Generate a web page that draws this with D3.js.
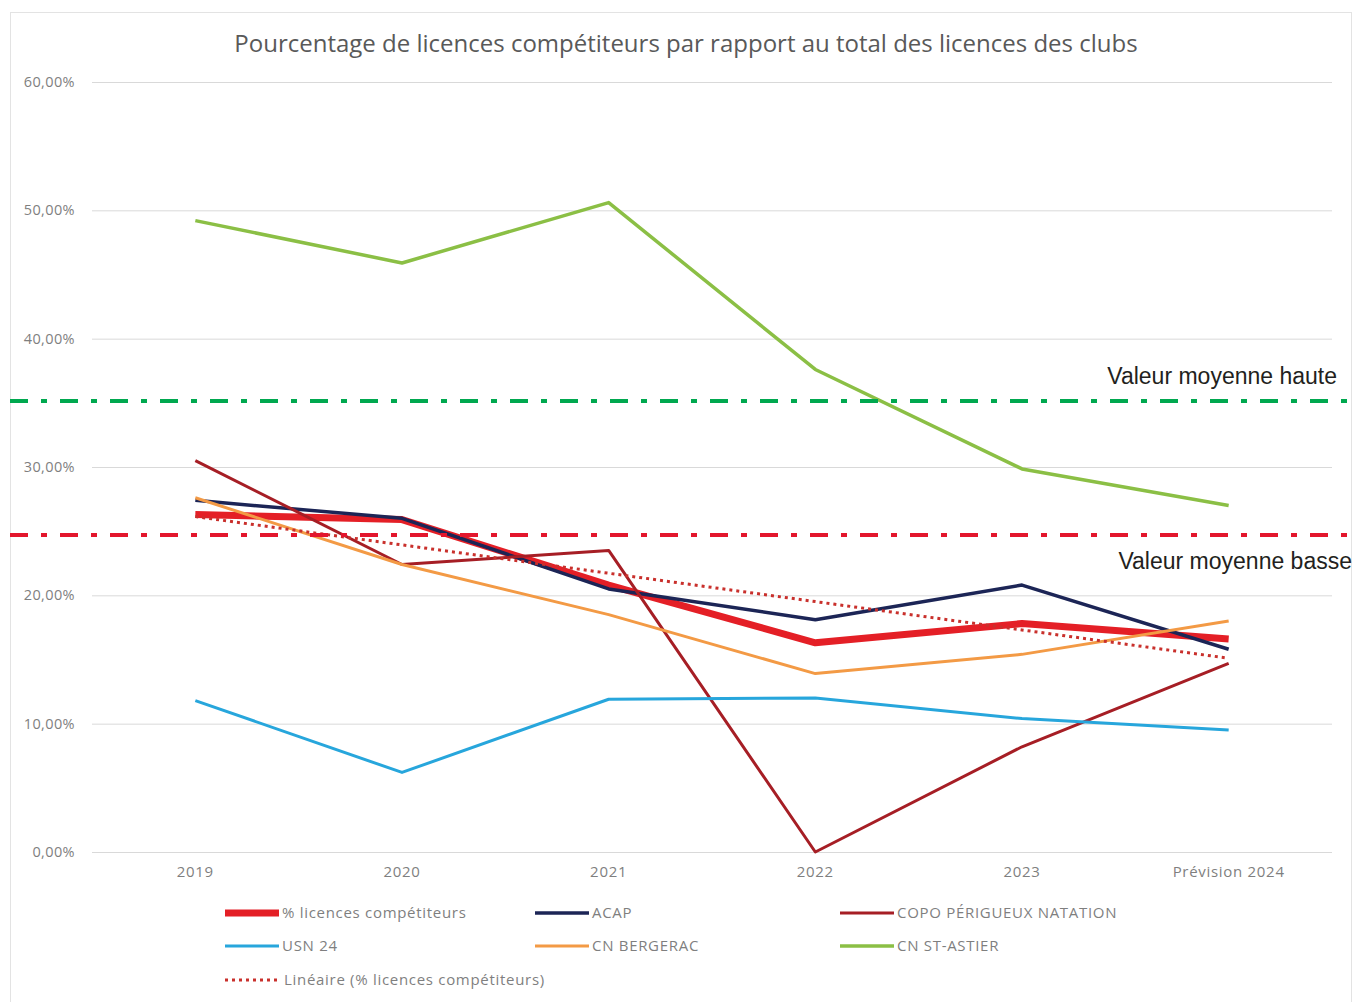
<!DOCTYPE html>
<html lang="fr">
    <head>
        <title>Pourcentage de licences compétiteurs</title>
        <meta charset="UTF-8">
    </head>
    <style>
        body { margin: 0; background: #fff; }
        svg text { font-family: "Open Sans", "Noto Sans", sans-serif; }
    </style>
    <script src="https://d3js.org/d3.v7.min.js"></script>
    <body>
        <script>
            const width = 1355
            const height = 1002

            // données
            const years = ["2019", "2020", "2021", "2022", "2023", "Prévision 2024"]
            const yTicks = [0, 0.1, 0.2, 0.3, 0.4, 0.5, 0.6]
            const pctCompetiteurs = [0.263, 0.259, 0.208, 0.163, 0.178, 0.166]
            const acap = [0.274, 0.260, 0.205, 0.181, 0.208, 0.158]
            const copo = [0.305, 0.224, 0.235, 0.000, 0.082, 0.147]
            const usn24 = [0.118, 0.062, 0.119, 0.120, 0.104, 0.095]
            const cnBergerac = [0.276, 0.224, 0.185, 0.139, 0.154, 0.180]
            const cnStAstier = [0.492, 0.459, 0.506, 0.376, 0.2985, 0.270]
            const seuilHaut = 0.3515
            const seuilBas = 0.247

            const series = [
                { name: "% licences compétiteurs", values: pctCompetiteurs, color: "#e41f26", w: 7 },
                { name: "ACAP", values: acap, color: "#1c2556", w: 3.5 },
                { name: "COPO PÉRIGUEUX NATATION", values: copo, color: "#a61e25", w: 3 },
                { name: "USN 24", values: usn24, color: "#27a6dc", w: 3 },
                { name: "CN BERGERAC", values: cnBergerac, color: "#f39a45", w: 3 },
                { name: "CN ST-ASTIER", values: cnStAstier, color: "#8bbf45", w: 3.5 }
            ]

            var svg = d3.select("body")
                .append("svg")
                .attr("width", width)
                .attr("height", height)

            // cadre du graphique
            svg.append("rect")
                .attr("x", 10.5).attr("y", 12.5)
                .attr("width", 1341).attr("height", 1000)
                .attr("fill", "#fff")
                .attr("stroke", "#e3e3e3")

            var x = d3.scaleBand()
                .domain(years)
                .range([92, 1332])

            var y = d3.scaleLinear()
                .domain([0, 0.6])
                .range([852, 82])

            var fmt = function (d) { return d3.format(".2f")(d * 100).replace(".", ",") + "%" }

            // titre
            svg.append("text")
                .attr("x", 686).attr("y", 52)
                .attr("text-anchor", "middle")
                .attr("fill", "#595959")
                .style("font-size", "24px")
                .text("Pourcentage de licences compétiteurs par rapport au total des licences des clubs")

            // grille + axe Y
            var yAxis = svg.append("g")
                .attr("transform", "translate(92,0)")
                .call(d3.axisLeft(y).tickValues(yTicks).tickSize(-1240).tickFormat(fmt).tickPadding(17))
            yAxis.select(".domain").remove()
            yAxis.selectAll("line").attr("stroke", "#d9d9d9")
            yAxis.selectAll("text").attr("fill", "#7f7f7f").style("font-size", "14.5px").style("letter-spacing", "0.4px")

            // axe X
            var xAxis = svg.append("g")
                .attr("transform", "translate(0,852)")
                .call(d3.axisBottom(x).tickSize(0).tickPadding(14))
            xAxis.select(".domain").remove()
            xAxis.selectAll("text").attr("fill", "#7f7f7f").style("font-size", "15px").style("letter-spacing", "0.7px")

            var line = d3.line()
                .x(function (d, i) { return x(years[i]) + x.bandwidth() / 2 })
                .y(function (d) { return y(d) })

            svg.selectAll(".serie")
                .data(series)
                .enter()
                .append("path")
                .attr("class", "serie")
                .attr("fill", "none")
                .attr("stroke", function (d) { return d.color })
                .attr("stroke-width", function (d) { return d.w })
                .attr("stroke-linejoin", "round")
                .attr("d", function (d) { return line(d.values) })

            // tendance linéaire (moindres carrés sur % licences compétiteurs)
            var idx = d3.range(pctCompetiteurs.length)
            var mx = d3.mean(idx), my = d3.mean(pctCompetiteurs)
            var slope = d3.sum(idx, function (i) { return (i - mx) * (pctCompetiteurs[i] - my) }) /
                        d3.sum(idx, function (i) { return (i - mx) * (i - mx) })
            var trend = idx.map(function (i) { return my + slope * (i - mx) })

            svg.append("path")
                .attr("fill", "none")
                .attr("stroke", "#c9302c")
                .attr("stroke-width", 3)
                .attr("stroke-dasharray", "3,4")
                .attr("d", line(trend))

            // lignes de seuil
            var seuils = [
                { v: seuilHaut, color: "#00a84f", label: "Valeur moyenne haute", lx: 1337, dy: -17 },
                { v: seuilBas, color: "#e3162d", label: "Valeur moyenne basse", lx: 1352, dy: 34 }
            ]
            svg.selectAll(".seuil")
                .data(seuils)
                .enter()
                .append("line")
                .attr("class", "seuil")
                .attr("x1", 10).attr("x2", 1355)
                .attr("y1", function (d) { return y(d.v) })
                .attr("y2", function (d) { return y(d.v) })
                .attr("stroke", function (d) { return d.color })
                .attr("stroke-width", 4)
                .attr("stroke-dasharray", "18,13,6,13")

            svg.selectAll(".seuil-label")
                .data(seuils)
                .enter()
                .append("text")
                .attr("x", function (d) { return d.lx })
                .attr("y", function (d) { return y(d.v) + d.dy })
                .attr("text-anchor", "end")
                .attr("fill", "#231f20")
                .style("font-family", "'Liberation Sans', Arial, sans-serif")
                .style("font-size", "23px")
                .text(function (d) { return d.label })

            // légende
            var legendItems = series.concat([{ name: "Linéaire (% licences compétiteurs)", color: "#c9302c", w: 3, dotted: true }])
            var legCols = [225, 535, 840]
            var legRows = [913, 946, 980]
            var leg = svg.selectAll(".leg")
                .data(legendItems)
                .enter()
                .append("g")
                .attr("class", "leg")
                .attr("transform", function (d, i) {
                    return "translate(" + legCols[i % 3] + "," + legRows[Math.floor(i / 3)] + ")"
                })
            leg.append("line")
                .attr("x1", 0).attr("x2", 54)
                .attr("stroke", function (d) { return d.color })
                .attr("stroke-width", function (d) { return d.w })
                .attr("stroke-dasharray", function (d) { return d.dotted ? "3,4" : null })
            leg.append("text")
                .attr("x", function (d) { return d.dotted ? 59 : 57 })
                .attr("dy", "0.35em")
                .attr("fill", "#7f7f7f")
                .style("font-size", "15px")
                .style("letter-spacing", "0.7px")
                .text(function (d) { return d.name })
        </script>
    </body>
</html>
